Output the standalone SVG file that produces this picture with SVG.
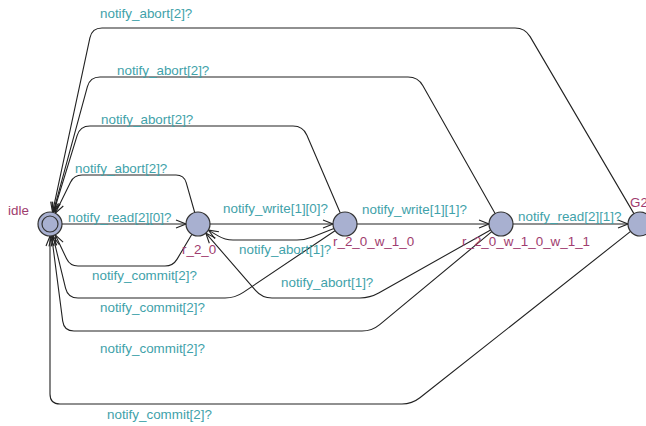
<svg xmlns="http://www.w3.org/2000/svg" width="646" height="426" viewBox="0 0 646 426">
<style>
.loc{fill:#a8b0d0;stroke:#333;stroke-width:1.2}
.edge{fill:none;stroke:#222;stroke-width:1.1;marker-end:url(#arr)}
.lbl{font-family:"Liberation Sans",Arial,sans-serif;font-size:13.4px;fill:#3fa2aa}
.name{font-family:"Liberation Sans",Arial,sans-serif;font-size:13.4px;fill:#a03c6e}
</style>
<defs>
<marker id="arr" markerUnits="userSpaceOnUse" viewBox="-11 -6 12 12" markerWidth="12" markerHeight="12" refX="0" refY="0" orient="auto">
<path d="M-10,-4 L0,0 L-10,4" fill="none" stroke="#222" stroke-width="1.1"/>
</marker>
</defs>
<rect width="646" height="426" fill="#fff"/>
<g id="edges">
<path class="edge" d="M62,224 L186,224"/>
<path class="edge" d="M210,224 L333,224"/>
<path class="edge" d="M357,224 L489,224"/>
<path class="edge" d="M513,224 L628,224"/>
<path class="edge" d="M194.7,212.5 L186.2,182.7 Q184,175 176,175 L82,175 Q74,175 70.5,182.2 L55.3,213.2"/>
<path class="edge" d="M191.9,234.3 L177.1,259.1 Q173,266 165,266 L78,266 Q70,266 66.6,258.8 L55.2,234.8"/>
<path class="edge" d="M333.9,228.5 L312.4,237 Q305,240 297,240 L233,240 Q225,240 218.1,235.9 L208.3,230.1"/>
<path class="edge" d="M490.6,229.9 L378.7,293.1 Q370,298 360,298 L272,298 Q262,298 255.5,290.4 L205.8,233.1"/>
<path class="edge" d="M335,230.7 L243.3,292.4 Q235,298 225,298 L78,298 Q68,298 65.6,288.3 L52.8,235.7"/>
<path class="edge" d="M491.8,231.7 L379.7,324.6 Q372,331 362,331 L74,331 Q64,331 62.7,321.1 L51.6,235.9"/>
<path class="edge" d="M630.6,231.4 L419.9,397.8 Q412,404 402,404 L60,404 Q50,404 50,394 L50,236"/>
<path class="edge" d="M340.3,213 L306.9,135.2 Q303,126 293,126 L90,126 Q80,126 77.1,135.6 L53.5,212.5"/>
<path class="edge" d="M495.1,213.5 L422.9,85.7 Q418,77 408,77 L100,77 Q90,77 87.4,86.7 L53.2,212.4"/>
<path class="edge" d="M633.9,213.6 L530.1,36.6 Q525,28 515,28 L102,28 Q92,28 89.9,37.8 L52.5,212.3"/>
<text class="lbl" x="68" y="222">notify_read[2][0]?</text>
<text class="lbl" x="223" y="212.5">notify_write[1][0]?</text>
<text class="lbl" x="362" y="213.5">notify_write[1][1]?</text>
<text class="lbl" x="518" y="220.5">notify_read[2][1]?</text>
<text class="lbl" x="100" y="17.5">notify_abort[2]?</text>
<text class="lbl" x="117" y="74.5">notify_abort[2]?</text>
<text class="lbl" x="101" y="123.5">notify_abort[2]?</text>
<text class="lbl" x="75" y="172.5">notify_abort[2]?</text>
<text class="lbl" x="92" y="280">notify_commit[2]?</text>
<text class="lbl" x="100" y="311.5">notify_commit[2]?</text>
<text class="lbl" x="100" y="352.5">notify_commit[2]?</text>
<text class="lbl" x="107" y="418.5">notify_commit[2]?</text>
<text class="lbl" x="239" y="253.5">notify_abort[1]?</text>
<text class="lbl" x="281" y="286.5">notify_abort[1]?</text>
</g>
<g id="idle">
<circle class="loc" cx="50" cy="224" r="12"/>
<circle cx="50" cy="224" r="8" fill="none" stroke="#333" stroke-width="1.2"/>
<text class="name" x="8" y="215">idle</text>
</g>
<g id="r_2_0">
<circle class="loc" cx="198" cy="224" r="12"/>
<text class="name" x="182" y="254">r_2_0</text>
</g>
<g id="r_2_0_w_1_0">
<circle class="loc" cx="345" cy="224" r="12"/>
<text class="name" x="333" y="246">r_2_0_w_1_0</text>
</g>
<g id="r_2_0_w_1_0_w_1_1">
<circle class="loc" cx="501" cy="224" r="12"/>
<text class="name" x="462" y="246">r_2_0_w_1_0_w_1_1</text>
</g>
<g id="G2">
<circle class="loc" cx="640" cy="224" r="12"/>
<text class="name" x="630" y="207">G2</text>
</g>
</svg>
